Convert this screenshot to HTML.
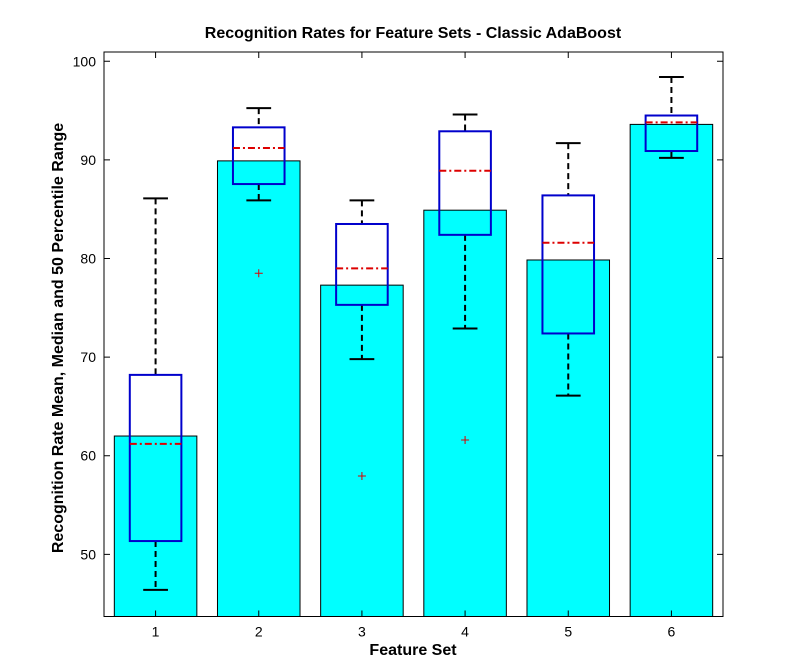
<!DOCTYPE html>
<html><head><meta charset="utf-8"><style>
body{margin:0;background:#fff;}
svg text{font-family:"Liberation Sans",Arial,sans-serif;}
</style></head><body>
<svg id="chart" width="797" height="664" xmlns="http://www.w3.org/2000/svg">
<rect x="0" y="0" width="797" height="664" fill="#fff"/>
<text x="413" y="38" text-anchor="middle" font-size="16" font-weight="bold">Recognition Rates for Feature Sets - Classic AdaBoost</text>
<text x="413" y="655" text-anchor="middle" font-size="16" font-weight="bold">Feature Set</text>
<text transform="translate(63,338) rotate(-90)" text-anchor="middle" font-size="16" font-weight="bold">Recognition Rate Mean, Median and 50 Percentile Range</text>
<g id="marks"></g>
</svg>
<script>
const categories=["1","2","3","4","5","6"];
const means=[62,89.9,77.3,84.9,79.85,93.6];
const q1=[51.35,87.55,75.3,82.4,72.4,90.9];
const q3=[68.2,93.3,83.5,92.9,86.4,94.5];
const medians=[61.2,91.2,79.0,88.9,81.6,93.8];
const whiskerLow=[46.4,85.9,69.8,72.9,66.1,90.2];
const whiskerHigh=[86.1,95.25,85.9,94.6,91.7,98.4];
const outliers=[null,78.5,57.95,61.6,null,null];
const yTicks=[50,60,70,80,90,100];

const L=104,R=723,T=52,B=616.5;
const yMin=43.7,yMax=100.94;
const xs=i=>L+(i+0.5)*(R-L)/categories.length; // i index 0-based
const unit=(R-L)/categories.length;
const ys=v=>B-(v-yMin)/(yMax-yMin)*(B-T);
const NS="http://www.w3.org/2000/svg";
const g=document.getElementById('marks');
function mk(tag,a){const e=document.createElementNS(NS,tag);for(const k in a)e.setAttribute(k,a[k]);g.appendChild(e);return e;}

categories.forEach((c,i)=>{
  const cx=xs(i),bw=unit*0.8;
  let e=mk('rect',{x:cx-bw/2,y:ys(means[i]),width:bw,height:B-ys(means[i]),fill:'#00ffff',stroke:'#000','stroke-width':1});
  
  
});
categories.forEach((c,i)=>{
  const cx=xs(i),hw=unit*0.25,cw=unit*0.12;
  let e=mk('line',{x1:cx,x2:cx,y1:ys(whiskerHigh[i]),y2:ys(q3[i]),stroke:'#000','stroke-width':2,'stroke-dasharray':'6,4'});
  
  
  e=mk('line',{x1:cx,x2:cx,y1:ys(q1[i]),y2:ys(whiskerLow[i]),stroke:'#000','stroke-width':2,'stroke-dasharray':'6,4'});
  
  
  e=mk('line',{x1:cx-cw,x2:cx+cw,y1:ys(whiskerHigh[i]),y2:ys(whiskerHigh[i]),stroke:'#000','stroke-width':2});
  
  
  e=mk('line',{x1:cx-cw,x2:cx+cw,y1:ys(whiskerLow[i]),y2:ys(whiskerLow[i]),stroke:'#000','stroke-width':2});
  
  
  e=mk('rect',{x:cx-hw,y:ys(q3[i]),width:2*hw,height:ys(q1[i])-ys(q3[i]),fill:'none',stroke:'#0000cc','stroke-width':2});
  
  
  e=mk('line',{x1:cx-hw,x2:cx+hw,y1:ys(medians[i]),y2:ys(medians[i]),stroke:'#dd0000','stroke-width':2,'stroke-dasharray':'7,3,2,3'});
  
  
  if(outliers[i]!==null){
    const oy=ys(outliers[i]);
    e=mk('path',{d:`M${cx-4},${oy}H${cx+4}M${cx},${oy-4}V${oy+4}`,stroke:'#dd0000','stroke-width':1});
    
    
  }
});
// axes box
let ax=mk('rect',{x:L,y:T,width:R-L,height:B-T,fill:'none',stroke:'#000','stroke-width':1});


yTicks.forEach(v=>{
  const y=ys(v);
  let e=mk('path',{d:`M${L},${y}h6M${R},${y}h-6`,stroke:'#000','stroke-width':1});
  
  
  e=mk('text',{x:L-8,y:y+5,'text-anchor':'end','font-size':14});
  e.textContent=v;
  
  
});
categories.forEach((c,i)=>{
  const x=xs(i);
  let e=mk('path',{d:`M${x},${B}v-6M${x},${T}v6`,stroke:'#000','stroke-width':1});
  
  
  e=mk('text',{x:x,y:B+20,'text-anchor':'middle','font-size':14});
  e.textContent=c;
  
  
});
</script>
</body></html>
